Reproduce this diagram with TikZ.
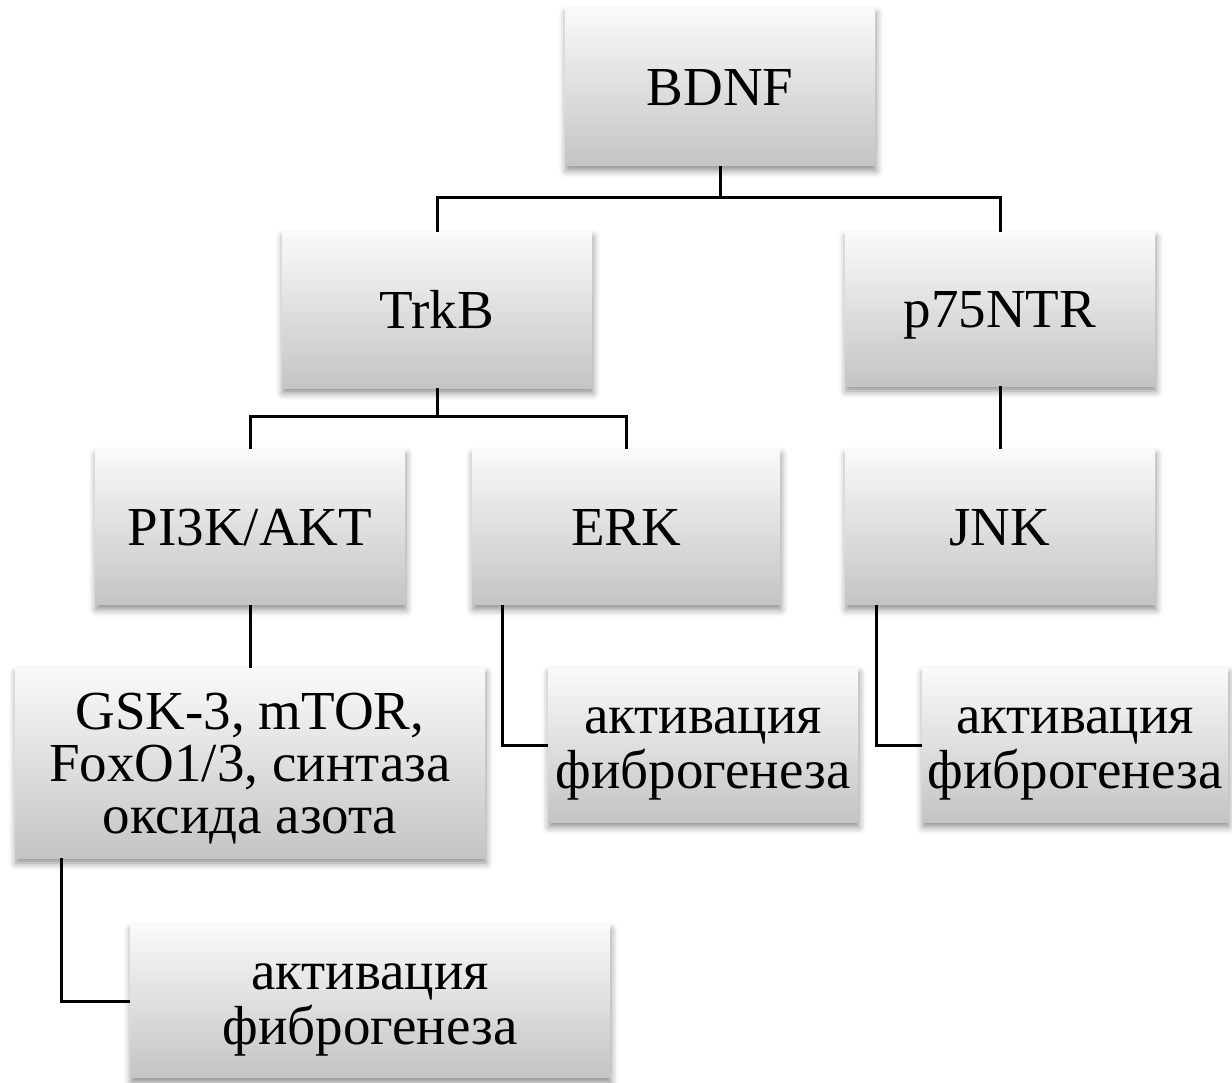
\documentclass[tikz,border=0pt]{standalone}
\usepackage{fontspec}
\setmainfont{Liberation Serif}
\usetikzlibrary{shadows.blur}

\tikzset{
  box/.style={shade, top color=black!2, bottom color=black!23, inner sep=0pt, align=center,
    blur shadow={shadow xshift=1pt, shadow yshift=-5pt, shadow blur radius=7pt, shadow opacity=45},
    font=\fontsize{55}{55}\selectfont},
  one/.style={text height=37pt, text depth=0pt},
  two/.style={text height=86pt, text depth=0pt},
  link/.style={line width=3pt, black}
}

\begin{document}
\begin{tikzpicture}[x=1pt,y=-1pt]
\useasboundingbox (0,0) rectangle (1232,1083);

\node [box, one, minimum width=310pt, minimum height=157pt] (BDNF) at (720,87) {BDNF};
\node [box, one, minimum width=310pt, minimum height=156pt] (TrkB) at (437,310) {TrkB};
\node [box, one, minimum width=310pt, minimum height=154pt] (p75NTR) at (1000,309) {p75NTR};
\node [box, one, minimum width=310pt, minimum height=155pt] (PI3K) at (250,527) {PI3K/AKT};
\node [box, one, minimum width=308pt, minimum height=155pt] (ERK) at (626,527) {ERK};
\node [box, one, minimum width=310pt, minimum height=155pt] (JNK) at (1000,527) {JNK};
\node [box, minimum width=470pt, minimum height=190pt, text height=140pt, text depth=0pt,
  font=\fontsize{55}{52}\selectfont] (GSK) at (250,763)
  {GSK-3, mTOR,\\FoxO1/3, синтаза\\оксида азота};
\node [box, two, minimum width=480pt, minimum height=153pt] (act1) at (370,1001) {активация\\фиброгенеза};
\node [box, two, minimum width=310pt, minimum height=154pt] (act2) at (703,745) {активация\\фиброгенеза};
\node [box, two, minimum width=306pt, minimum height=154pt] (act3) at (1075,745) {активация\\фиброгенеза};

\coordinate (b1) at (720,198);
\coordinate (b2) at (437,416);
\draw [link] (BDNF.south) -- (b1);
\draw [link] (TrkB.north) |- (b1) -| (p75NTR.north);
\draw [link] (TrkB.south) -- (b2);
\draw [link] (PI3K.north) |- (b2) -| (ERK.north);
\draw [link] (p75NTR.south) -- (JNK.north);
\draw [link] (PI3K.south) -- (GSK.north);
\draw [link] ([xshift=47pt]GSK.south west) |- (act1.west);
\draw [link] ([xshift=31pt]ERK.south west) |- (act2.west);
\draw [link] ([xshift=32pt]JNK.south west) |- (act3.west);
\end{tikzpicture}
\end{document}
